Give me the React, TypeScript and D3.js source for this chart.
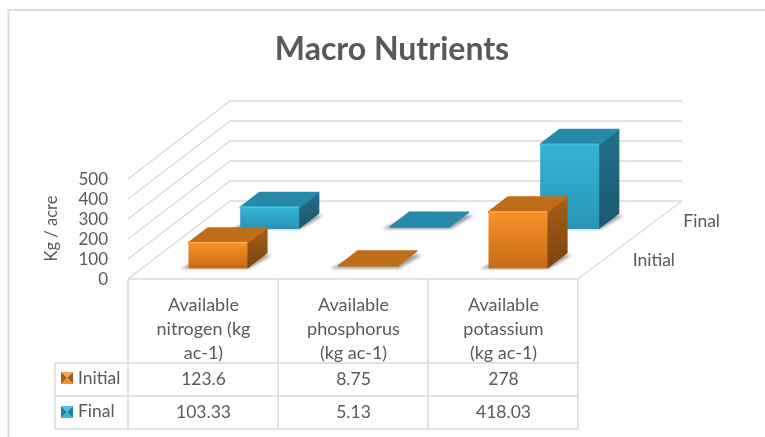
import React, { useEffect, useRef } from "react";
import * as d3 from "d3";

const categories = ["Available nitrogen (kg ac-1)", "Available phosphorus (kg ac-1)", "Available potassium (kg ac-1)"];
const categoryLines = [
  ["Available", "nitrogen (kg", "ac-1)"],
  ["Available", "phosphorus", "(kg ac-1)"],
  ["Available", "potassium", "(kg ac-1)"],
];
const seriesNames = ["Initial", "Final"];
const initialValues = [123.6, 8.75, 278];
const finalValues = [103.33, 5.13, 418.03];
const yTicks = [0, 100, 200, 300, 400, 500];

const W = 765;
const H = 437;
const FONT = "Lato, 'Open Sans', sans-serif";
const TEXT = "#595959";
const GRID = "#d9d9d9";

// oblique projection of the 3D box
const originX = 128;
const originY = 279;
const depthDx = 102;
const depthDy = -78;

const colors = {
  Initial: { light: "#fa9128", dark: "#c66c16", top: "#bf6d19", side: "#a65e16", sideDark: "#7c4410", edge: "#fca348", keyLight: "#f7a45a", keyDark: "#a85c14" },
  Final: { light: "#33b4d8", dark: "#2a94b4", top: "#2888a8", side: "#22718c", sideDark: "#1a586c", edge: "#48c0e0", keyLight: "#58c4e4", keyDark: "#1f7f9c" },
};

export default function App() {
  const ref = useRef<SVGSVGElement>(null);

  useEffect(() => {
    const svg = d3.select(ref.current);
    svg.selectAll("*").remove();

    const x = d3.scaleBand().domain(categories).range([originX, 578]);
    const y = d3.scaleLinear().domain([0, 500]).range([0, 100]);
    const depth = d3.scalePoint().domain(seriesNames).range([0.147, 0.654]);
    const barDepth = 0.19;

    const project = (px: number, d: number, v: number): [number, number] => [
      px + d * depthDx,
      originY + d * depthDy - y(v),
    ];
    const poly = (pts: [number, number][]) => d3.line()(pts) + "Z";

    const defs = svg.append("defs");
    seriesNames.forEach((s) => {
      const c = colors[s];
      const g = defs.append("linearGradient").attr("id", "front" + s).attr("x1", 0).attr("y1", 0).attr("x2", 0).attr("y2", 1);
      g.append("stop").attr("offset", "0%").attr("stop-color", c.light);
      g.append("stop").attr("offset", "100%").attr("stop-color", c.dark);
      const g2 = defs.append("linearGradient").attr("id", "side" + s).attr("x1", 0).attr("y1", 0).attr("x2", 0).attr("y2", 1);
      g2.append("stop").attr("offset", "0%").attr("stop-color", c.side);
      g2.append("stop").attr("offset", "100%").attr("stop-color", c.sideDark);
    });
    defs.append("filter").attr("id", "blur").attr("x", "-30%").attr("y", "-60%").attr("width", "160%").attr("height", "220%")
      .append("feGaussianBlur").attr("stdDeviation", 1.5);

    // chart frame, only top and left are inside the crop
    svg.append("path").attr("d", d3.line()([[8.5, H], [8.5, 10], [W, 10]]))
      .attr("fill", "none").attr("stroke", "#dcdcdc").attr("stroke-width", 2);

    svg.append("text").attr("x", 392).attr("y", 60).attr("text-anchor", "middle")
      .attr("font-family", FONT).attr("font-size", 32).attr("font-weight", 700).attr("fill", TEXT)
      .text("Macro Nutrients");

    // walls and floor
    yTicks.forEach((t) => {
      const a = project(originX, 0, t);
      const b = project(originX, 1, t);
      const c = project(580, 1, t);
      svg.append("path").attr("d", d3.line()([a, b, c])).attr("fill", "none").attr("stroke", GRID).attr("stroke-width", 1.3);
      svg.append("text").attr("x", 108).attr("y", a[1] + 6).attr("text-anchor", "end")
        .attr("font-family", FONT).attr("font-size", 17).attr("fill", TEXT).text(t);
    });
    svg.append("path").attr("d", d3.line()([project(578, 0, 0), project(580, 1, 0)]))
      .attr("fill", "none").attr("stroke", GRID).attr("stroke-width", 1.3);

    svg.append("text").attr("transform", "translate(57,228.5) rotate(-90)").attr("text-anchor", "middle")
      .attr("font-family", FONT).attr("font-size", 16.5).attr("fill", TEXT).text("Kg / acre");

    seriesNames.forEach((s, i) => {
      svg.append("text").attr("x", i === 0 ? 675 : 720).attr("y", i === 0 ? 266 : 227).attr("text-anchor", "end")
        .attr("font-family", FONT).attr("font-size", 17.5).attr("fill", TEXT).text(s);
    });

    // bars, back row first
    const rows = [
      { name: "Final", values: finalValues },
      { name: "Initial", values: initialValues },
    ];
    const barW = 59;
    rows.forEach((row) => {
      const d0 = depth(row.name);
      const d1 = d0 + barDepth;
      const c = colors[row.name];
      row.values.forEach((v, i) => {
        const x0 = x(categories[i]) + (x.bandwidth() - barW) / 2;
        const x1 = x0 + barW;
        const g = svg.append("g");
        // ground shadow
        g.append("path")
          .attr("d", poly([project(x0 - 7, d0 - 0.012, 0), project(x1 + 3, d0 - 0.012, 0), project(x1 + 8, d1 - 0.03, 0), project(x0 + 6, d1, 0)]))
          .attr("fill", "#808080").attr("opacity", 0.75).attr("filter", "url(#blur)");
        if (v > 20) {
          g.append("path").attr("d", poly([project(x1, d0, v), project(x1, d1, v), project(x1, d1, 0), project(x1, d0, 0)]))
            .attr("fill", `url(#side${row.name})`).attr("stroke", `url(#side${row.name})`).attr("stroke-linejoin", "round").attr("stroke-width", 1.5);
        }
        g.append("path").attr("d", poly([project(x0, d0, v), project(x1, d0, v), project(x1, d1, v), project(x0, d1, v)]))
          .attr("fill", c.top).attr("stroke", c.top).attr("stroke-linejoin", "round").attr("stroke-width", 1.5);
        if (v > 20) {
          g.append("path").attr("d", poly([project(x0 + 1, d0, v), project(x1 - 1, d0, v), project(x1 - 1, d0, 0), project(x0 + 1, d0, 0)]))
            .attr("fill", `url(#front${row.name})`).attr("stroke", `url(#front${row.name})`).attr("stroke-linejoin", "round").attr("stroke-width", 2);
          // bevel highlight on the top edge
          g.append("path").attr("d", d3.line()([project(x0 + 1, d0, v), project(x1 - 1, d0, v)]))
            .attr("stroke", c.edge).attr("stroke-width", 1.5).attr("stroke-linecap", "round");
        }
      });
    });

    // data table
    const tableX = [...x.domain().map((d) => x(d)), x.range()[1]];
    const rowY = [originY, 363, 396, 429];
    const table = svg.append("g").attr("stroke", GRID).attr("stroke-width", 1.5);
    tableX.forEach((tx) => table.append("line").attr("x1", tx).attr("x2", tx).attr("y1", rowY[0]).attr("y2", rowY[3]));
    table.append("line").attr("x1", tableX[0]).attr("x2", tableX[3]).attr("y1", rowY[0]).attr("y2", rowY[0]);
    rowY.slice(1).forEach((ry) => table.append("line").attr("x1", 55).attr("x2", tableX[3]).attr("y1", ry).attr("y2", ry));
    table.append("line").attr("x1", 55).attr("x2", 55).attr("y1", rowY[1]).attr("y2", rowY[3]);

    categoryLines.forEach((lines, i) => {
      lines.forEach((l, j) => {
        svg.append("text").attr("x", x(categories[i]) + x.bandwidth() / 2 + 0.5).attr("y", 311 + j * 23.8).attr("text-anchor", "middle")
          .attr("font-family", FONT).attr("font-size", 18).attr("fill", TEXT).text(l);
      });
    });

    [initialValues, finalValues].forEach((vals, r) => {
      const name = seriesNames[r];
      const c = colors[name];
      const ty = r === 0 ? 385 : 418;
      vals.forEach((v, i) => {
        svg.append("text").attr("x", x(categories[i]) + x.bandwidth() / 2 + 0.5).attr("y", ty).attr("text-anchor", "middle")
          .attr("font-family", FONT).attr("font-size", 17.5).attr("fill", TEXT).text(String(v));
      });
      // legend key with the same bevel look
      const kx = 61;
      const ky = r === 0 ? 372 : 406;
      const ks = 12;
      const mid: [number, number] = [kx + ks / 2, ky + ks / 2];
      const tl: [number, number] = [kx, ky];
      const tr: [number, number] = [kx + ks, ky];
      const br: [number, number] = [kx + ks, ky + ks];
      const bl: [number, number] = [kx, ky + ks];
      svg.append("path").attr("d", poly([tl, tr, mid])).attr("fill", c.keyLight);
      svg.append("path").attr("d", poly([tr, br, mid])).attr("fill", c.keyDark);
      svg.append("path").attr("d", poly([br, bl, mid])).attr("fill", c.light);
      svg.append("path").attr("d", poly([bl, tl, mid])).attr("fill", c.keyDark);
      svg.append("text").attr("x", 78).attr("y", ty - 1).attr("font-family", FONT).attr("font-size", 17.5).attr("fill", TEXT).text(name);
    });
  }, []);

  return <svg ref={ref} width={W} height={H} style={{ position: "fixed", left: 0, top: 0 }} />;
}
